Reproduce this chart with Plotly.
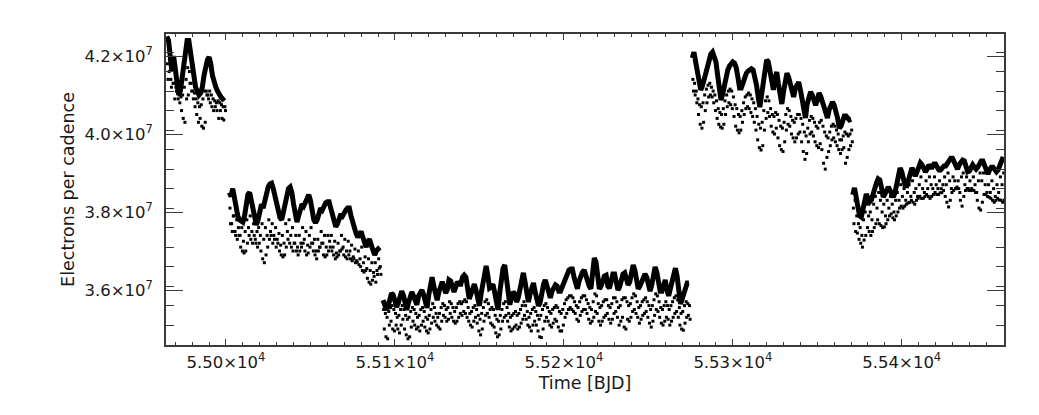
import plotly.graph_objects as go

UNIT = 1e5  # all flux values below are in units of 1e5 electrons per cadence

# first day (BJD-2400000) of each observing segment; samples are one per day
seg_start_days = [54965, 55002, 55093, 55276, 55371]

# ---------------- thick curve ----------------
line_seg1 = [425, 424, 420, 416, 420, 416, 412, 410, 411, 414,
             418, 422, 424, 424, 421, 417, 414, 412, 411, 410,
             410.5, 412, 415, 418, 419, 419.7, 418, 415, 413, 412,
             411, 410, 409.5, 409, 408.5]
line_seg2 = [385, 384, 386, 383, 381, 379, 378, 377.5, 377.4, 379,
             382, 384.5, 385, 383, 380, 378, 376.7, 378, 380, 382,
             381, 383, 385, 386.5, 387.2, 387.4, 386, 384, 382, 379.5,
             378.5, 378, 380, 382.5, 385, 386, 386.4, 385, 382, 379,
             377.4, 379, 381, 382, 381.5, 382.5, 384, 384.4, 383, 380,
             378, 377.2, 378, 379.5, 381, 380.5, 381.5, 382.3, 382.6, 382.6,
             381, 379, 377, 376.2, 377, 378.5, 379.5, 379, 380, 380.5,
             381, 381, 379, 377, 375, 374.5, 373.5, 374.5, 375, 373.5,
             372, 371, 372.5, 373, 371.5, 370, 369, 370, 370.5, 370]
line_seg3 = [357.4, 356.2, 354.9, 355.9, 358, 359.2, 358.7, 357.4, 355.6, 356.7,
             358.2, 359.7, 358.7, 356.9, 354.9, 356.7, 358.2, 359.5, 358.5, 356.9,
             356.2, 358.5, 359.5, 360, 358.7, 356.7, 355.4, 358.7, 362.1, 363.3,
             361, 358.2, 357.4, 359.5, 361.5, 362.1, 360.8, 359.2, 360, 362.6,
             362.3, 361, 359.5, 360.8, 362.1, 361.5, 361.5, 363.3, 363.8, 363.3,
             360.5, 357.7, 359, 360, 361.5, 360, 358.2, 355.9, 359, 361.5,
             365.1, 366.2, 363.6, 360.5, 360.8, 361.5, 359.5, 356.7, 354.9, 359.2,
             362.8, 365.6, 366.4, 362.1, 358.5, 356.2, 358.2, 359.5, 359, 356.9,
             358, 360.3, 362.8, 364.4, 362.1, 359.5, 356.9, 359, 361, 361.8,
             359.5, 357.7, 355.9, 356.9, 359.7, 361.5, 362.6, 360.8, 358.7, 358,
             359.7, 360.8, 361.3, 361, 359.7, 359.7, 360.8, 362.1, 363.6, 364.6,
             365.1, 365.4, 365.4, 363.3, 361.3, 360.3, 362.3, 363.8, 364.6, 365.1,
             363.6, 362.6, 361, 360.3, 364.6, 368.2, 367.2, 362.6, 360.3, 361,
             362.3, 363.6, 363.8, 361, 360.5, 361.8, 364.1, 364.1, 362.6, 360,
             360.8, 363.3, 364.1, 364.4, 363.1, 361.3, 362.1, 364.6, 366.4, 365.1,
             363.1, 360.3, 361, 362.1, 363.1, 364.1, 363.3, 361.8, 359.7, 361.3,
             363.3, 365.9, 364.6, 362.3, 359.7, 359.7, 361.3, 362.6, 360, 358.5,
             360.3, 362.3, 364.6, 365.6, 363.6, 360, 356.4, 357.7, 359.5, 361.3, 361.8, 361.8]
line_seg4 = [419.5, 421, 418.5, 416, 412, 411.3, 412.3, 413.8, 415.1, 417.5,
             419.2, 420.5, 421, 420, 418.5, 415.1, 411.3, 408.7, 410.3, 412.6,
             415.1, 416.4, 417.4, 418, 418.5, 418.2, 417, 414.6, 411.8, 411.8,
             413, 414.9, 415.6, 416.1, 416.4, 416.7, 416.4, 414.6, 412.6, 409.5,
             406.9, 410, 413.3, 416.9, 419, 418.5, 416, 412.8, 411.3, 414.4,
             415.9, 412.8, 410, 407.7, 410.8, 413.3, 415.6, 414.6, 412.8, 410.8,
             409.5, 411.8, 412.8, 413.3, 411.3, 408.7, 405.6, 404.1, 407.7, 409.5,
             410.8, 410, 408.7, 407.4, 408.7, 410.5, 409.7, 408.2, 406.2, 404.9,
             404.1, 406.2, 407.7, 408.2, 407.4, 406.2, 404.1, 401.5, 402, 403.3,
             404.6, 404.6, 404.1, 403.6, 403.8]
line_seg5 = [384.4, 386.2, 383.8, 380.5, 379, 378.7, 380.5, 382.6, 384.6, 383.6,
             382.6, 383.1, 384.9, 386.2, 387.4, 388.5, 388.2, 386.2, 383.8, 384.6,
             385.9, 386.4, 385.6, 384.6, 383.8, 385, 387.7, 390.3, 391.3, 390.3,
             388.2, 386.7, 386.7, 388.5, 390.3, 391.3, 390.5, 389.2, 390.3, 391.8,
             392.6, 392.1, 390.8, 390.3, 391, 392.1, 391.5, 391.5, 392.3, 392.3,
             391.5, 390.8, 390.8, 391.5, 391.8, 391.8, 392.6, 393.3, 393.8, 393.8,
             392.6, 391.3, 391, 392.1, 393.1, 393.3, 393.1, 391.5, 390.3, 390.5,
             391.5, 392.1, 391.5, 391, 391.5, 392.6, 393.1, 393.1, 391.8, 390,
             389.7, 390.8, 391.5, 391.5, 390.8, 390.3, 390.8, 391.8, 392.8, 394.1]

# ---------------- dotted series (upper band, sampled at day + 0.35) ----------------
dots_a_seg1 = [418, 416, 414, 417, 413, 412, 411, 410, 409.5, 410,
               412, 414, 417, 416, 413, 411, 410.5, 409, 408, 407,
               407.5, 409, 411, 411, 410, 411, 410, 409, 408.5, 408,
               408.5, 408, 407.5, 407, 407]
dots_a_seg2 = [381, 377, 379, 375, 378, 376, 374, 376, 372.5, 375,
               378, 376, 379, 375, 377, 373, 375, 376, 374, 377,
               373, 376, 374, 378, 375, 377, 374, 376, 373, 374.5,
               371.5, 374, 372, 377, 375, 378, 374, 376, 372, 374,
               371, 374, 372, 376, 373, 375, 371.5, 374, 376, 372,
               373, 370, 373, 371, 375, 372, 374, 371, 374, 372.5,
               374, 371, 372.5, 369.5, 372, 370, 374, 371, 373, 370,
               372.5, 370, 371.5, 368.5, 370.5, 367.5, 370, 368, 371, 367,
               368.5, 365.5, 368, 365, 367, 364.5, 367, 365, 368, 366]
dots_a_seg3 = [355, 354, 353, 354.5, 355.5, 356, 355, 354, 353, 353.5,
               355, 356, 355, 353.5, 352.5, 353, 354.5, 355.5, 355, 354,
               353, 353.5, 355, 355.5, 354.5, 353, 352.5, 353.5, 355, 356.5,
               355.5, 354, 353, 354, 355.5, 356.5, 356, 355, 355.5, 357,
               356.5, 355.5, 354.5, 355.5, 356.5, 357, 356.5, 357, 357.5, 357,
               355.5, 354, 354.5, 355.5, 356, 355, 353.5, 352.5, 354, 355.5,
               357, 357.5, 356.5, 355, 355.5, 355, 353.5, 352.5, 352, 353.5,
               355, 356.5, 357, 355.5, 354, 353, 353.5, 354, 354.5, 353.5,
               354, 355, 356, 357, 356, 354.5, 353, 354, 355, 355.5,
               354.5, 353.5, 352.5, 353.5, 355, 356, 356.5, 355.5, 354.5, 354,
               355, 355.5, 356, 355.5, 354.5, 354, 355, 356.5, 357.5, 358,
               358.5, 358.5, 358, 357, 356, 355.5, 357, 358, 358.5, 358.5,
               357.5, 356.5, 355.5, 355, 357, 359, 358.5, 356.5, 355.5, 356,
               357, 357.5, 357.5, 356, 355.5, 356.5, 358, 358, 357, 355.5,
               356, 357.5, 358, 358, 357, 356, 356.5, 358, 359, 358.5,
               357, 355.5, 356, 357, 357.5, 358, 357, 356, 355, 356,
               357.5, 359, 358.5, 357, 355.5, 355, 356, 357, 356, 355,
               356, 357, 358, 358.5, 357.5, 355.5, 354, 354.5, 356, 357, 356.5, 356]
dots_a_seg4 = [414, 413, 411, 409, 407.5, 407, 408, 410, 411.5, 412.5,
               413, 412, 411, 410, 408.5, 406.5, 405.5, 405, 406.5, 408.5,
               410, 411, 411.5, 411, 409.5, 407.5, 406.5, 405, 404.5, 406,
               408, 409.5, 410, 410.5, 410, 409, 408, 406.5, 404.5, 402.5,
               401.5, 403, 406, 408.5, 409.5, 408.5, 406.5, 405, 404.5, 405.5,
               405, 403.5, 402, 401.5, 403, 405, 406.5, 406, 404.5, 403.5,
               403, 404, 405, 405, 404, 402.5, 400.5, 399.5, 401.5, 403.5,
               404.5, 404, 403, 402, 401.5, 403, 403.5, 402, 400.5, 399.5,
               399, 400.5, 402, 402.5, 402, 401, 400, 398.5, 398.5, 399.5,
               400.5, 400, 399.5, 400, 401]
dots_a_seg5 = [381, 383, 379, 377, 376, 374, 378, 380, 382, 379,
               380, 378, 382, 384, 381, 385, 383, 380, 382, 379,
               383, 381, 384, 382, 380, 383, 385, 383, 387, 384,
               386, 383, 385, 387, 384, 388, 385, 386, 384, 387,
               389, 386, 385, 388, 386, 389, 387, 386, 389, 387,
               386, 388, 386, 387, 389, 387, 390, 388, 386, 389,
               388, 386, 388, 385, 389, 390, 387, 389, 386, 388,
               386, 389, 387, 385, 388, 390, 388, 390, 387, 385,
               387, 385, 388, 386, 384, 387, 385, 389, 387, 390]

# ---------------- dotted series (lower scatter, sampled at day + 0.7) ----------------
dots_b_seg1 = [414, 419, 412, 413, 409, 411, 409, 408, 406, 404,
               403, 409, 410, 413, 411, 409, 407, 405, 403, 404,
               402, 401.5, 403, 410, 409, 408, 407, 406, 407, 406,
               404, 406, 404, 403.6, 406]
dots_b_seg2 = [377, 375, 379, 374, 373, 374, 371, 370, 369.5, 370,
               372, 374, 373, 372, 374, 372, 371, 372, 370, 368,
               367, 369, 371, 373, 374, 372, 373, 371, 372, 370,
               369, 368.5, 369, 371, 373, 372, 371, 370, 372, 370,
               369, 370, 371, 372, 370, 369, 369.5, 371, 372, 370,
               369, 368, 370, 371, 372, 369, 368.5, 369, 370, 371,
               370, 369, 368, 368.5, 369, 370, 370.5, 369, 368.5, 368,
               369, 368, 367.5, 368, 367, 367.2, 366.5, 366, 365, 364.6,
               365, 363, 362, 361.5, 362.5, 363.5, 362, 364, 365.6, 364]
dots_b_seg3 = [350, 348, 347.5, 351, 352, 350, 349.5, 351, 350, 349,
               351, 352.5, 350, 348.5, 347.5, 348, 350.5, 352, 351, 350,
               350.5, 349.5, 351, 352, 350.5, 349.5, 349, 350, 351.5, 353,
               352, 351, 350.5, 350, 352, 353.5, 353, 352, 352.5, 354,
               353, 352, 351.5, 352, 353, 354, 353.5, 354.5, 354, 353,
               352, 351, 350.5, 352, 353, 351.5, 349.5, 348.5, 350, 352,
               353.5, 354, 353, 351.5, 351, 350.5, 349, 348, 348.5, 350,
               352, 353, 353.5, 352, 350.5, 349.5, 350, 350.5, 351, 350,
               350.5, 351.5, 352.5, 353.5, 352.5, 351, 350.5, 349.5, 351, 352,
               351, 349.5, 348, 347.8, 350, 352, 353, 352, 351, 350.5,
               351.5, 352.5, 352, 350.5, 349.5, 349.5, 351, 353, 354, 355,
               355.5, 355, 354.5, 354, 352.5, 352, 353.5, 354.5, 355, 355,
               354, 352.5, 351.5, 352, 353, 354.5, 354, 352, 351, 352,
               353, 353.5, 354, 352.5, 351.5, 352.5, 354, 354.5, 353, 351,
               352, 353, 350.5, 350, 352.5, 352, 353, 354.5, 355, 354,
               353, 351.5, 352.5, 353.5, 354, 354.5, 353, 351.5, 350.5, 352,
               353.5, 355, 354.5, 353, 351.5, 351, 352, 353, 352.5, 351,
               352, 353, 354, 354.5, 353, 351, 350, 349.7, 351.5, 353, 353.5, 352.5]
dots_b_seg4 = [411, 410, 408, 405, 402.5, 401.5, 403, 406, 408, 409.5,
               410, 409.5, 408, 406, 404, 402.5, 401.8, 401.5, 402.5, 405,
               407, 408, 407.5, 406.5, 404.5, 402, 401, 400.3, 401, 403,
               405, 406.5, 407, 406.5, 405.5, 404.5, 403, 401, 398.5, 396.5,
               395.9, 397, 401, 404, 405.5, 404.5, 402, 400.5, 400, 401.5,
               399, 397, 396, 395.5, 398, 401, 402.5, 402, 400, 399,
               398, 399, 400, 400.5, 398, 395.5, 393.5, 395, 398, 400,
               400.5, 399.5, 398, 397, 396.5, 397.5, 396, 392.5, 391, 394,
               395.5, 397, 398.5, 399, 398, 397, 396, 395, 396, 396.5,
               392.5, 394, 396, 397, 398]
dots_b_seg5 = [377, 375, 374.6, 373, 372, 371, 372.8, 374, 376, 375,
               374, 375, 376, 377, 378, 377, 376.5, 376, 376.2, 377,
               378, 379, 379.5, 378.5, 378, 379, 380, 381, 381.5, 381,
               381.5, 382, 382.3, 382.5, 383, 382.5, 382, 383, 383.5, 384,
               383.5, 383.5, 384, 384.5, 384, 383.5, 384, 384.5, 385, 384.5,
               384.5, 384.9, 385, 385.5, 384, 382.5, 381.3, 383, 385, 385.5,
               386, 386.4, 386, 383, 381.5, 384, 385.5, 386, 385.5, 385.5,
               385.6, 385.5, 385, 383, 381, 380.5, 382.5, 384.5, 384.5, 384,
               383.8, 383.5, 383, 382.5, 383, 383.5, 383.1, 383, 382.5, 383]

line_segments = [line_seg1, line_seg2, line_seg3, line_seg4, line_seg5]
dots_a_segments = [dots_a_seg1, dots_a_seg2, dots_a_seg3, dots_a_seg4, dots_a_seg5]
dots_b_segments = [dots_b_seg1, dots_b_seg2, dots_b_seg3, dots_b_seg4, dots_b_seg5]

x_tick_values = [55000, 55100, 55200, 55300, 55400]
x_tick_labels = ["5.50×10<sup>4</sup>", "5.51×10<sup>4</sup>", "5.52×10<sup>4</sup>",
                 "5.53×10<sup>4</sup>", "5.54×10<sup>4</sup>"]
y_tick_values = [3.6e7, 3.8e7, 4.0e7, 4.2e7]
y_tick_labels = ["3.6×10<sup>7</sup>", "3.8×10<sup>7</sup>", "4.0×10<sup>7</sup>",
                 "4.2×10<sup>7</sup>"]


def build(segments, offset, gaps):
    xs, ys = [], []
    for start, seg in zip(seg_start_days, segments):
        for i, v in enumerate(seg):
            xs.append(start + i + offset)
            ys.append(v * UNIT)
        if gaps:
            xs.append(None)
            ys.append(None)
    return xs, ys


xa, ya = build(dots_a_segments, 0.35, False)
xb, yb = build(dots_b_segments, 0.7, False)
xl, yl = build(line_segments, 0.0, True)

fig = go.Figure()
fig.add_trace(go.Scatter(x=xa + xb, y=ya + yb, mode="markers",
                         marker=dict(symbol="square", size=3, color="black",
                                     line=dict(width=0)),
                         showlegend=False, hoverinfo="skip"))
fig.add_trace(go.Scatter(x=xl, y=yl, mode="lines",
                         line=dict(color="black", width=5),
                         connectgaps=False, showlegend=False, hoverinfo="skip"))

X_RANGE = [54964.5, 55460.5]
Y_RANGE = [3.459e7, 4.2564e7]
axis_color = "#3a3a3a"
tick_font = dict(family="DejaVu Sans, Verdana, sans-serif", size=16.5, color="#1a1a1a")
title_font = dict(family="DejaVu Sans, Verdana, sans-serif", size=17.5, color="#1a1a1a")

x_minor = [54970 + 10 * k for k in range(50) if 54970 + 10 * k < X_RANGE[1]]
y_minor = [3.46e7 + 5e5 * k for k in range(17) if 3.46e7 + 5e5 * k < Y_RANGE[1]]

fig.update_layout(
    width=1039, height=415,
    margin=dict(l=158, r=43, t=26, b=78),
    paper_bgcolor="white", plot_bgcolor="white",
    font=tick_font,
    xaxis=dict(range=X_RANGE, tickmode="array", tickvals=x_tick_values,
               ticktext=x_tick_labels, ticks="inside", ticklen=6, tickwidth=1,
               tickcolor=axis_color, showline=True, linecolor=axis_color,
               linewidth=1.5, mirror="allticks", showgrid=False, zeroline=False,
               minor=dict(tickmode="array", tickvals=x_minor, ticks="inside",
                          ticklen=3, tickwidth=1, tickcolor=axis_color, showgrid=False),
               title=dict(text="Time [BJD]", font=title_font, standoff=6),
               tickfont=tick_font, ticklabelstandoff=1),
    yaxis=dict(range=Y_RANGE, tickmode="array", tickvals=y_tick_values,
               ticktext=y_tick_labels, ticks="inside", ticklen=17, tickwidth=1,
               tickcolor=axis_color, showline=True, linecolor=axis_color,
               linewidth=1.5, mirror="allticks", showgrid=False, zeroline=False,
               minor=dict(tickmode="array", tickvals=y_minor, ticks="inside",
                          ticklen=8, tickwidth=1, tickcolor=axis_color, showgrid=False),
               title=dict(text="Electrons per cadence", font=title_font, standoff=5),
               tickfont=tick_font, ticklabelstandoff=8),
)

fig.write_html("out.html")
